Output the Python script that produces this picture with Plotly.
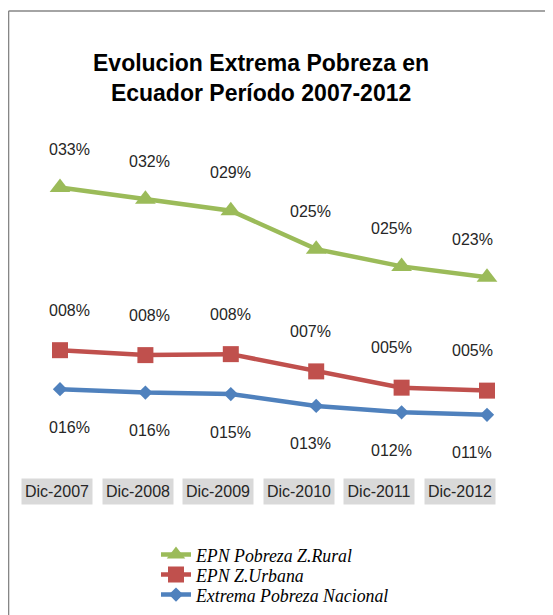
"""Evolucion Extrema Pobreza en Ecuador 2007-2012: lineas apiladas estilo Excel."""

import numpy as np
import plotly.graph_objects as go

periodos = ["Dic-2007", "Dic-2008", "Dic-2009", "Dic-2010", "Dic-2011", "Dic-2012"]
rural = [33.0, 31.6, 29.1, 24.8, 24.6, 23.0]
urbana = [7.9, 7.6, 8.1, 7.0, 5.0, 4.9]
nacional = [16.3, 15.6, 15.3, 12.9, 11.6, 11.1]

_SANS = "Liberation Sans, Arial, sans-serif"
_SERIF = "Liberation Serif, Times New Roman, serif"
_OFF = 8  # margen del body en la captura
_W, _H = 553, 615


def py(ref_y):
    """y en pixeles de la referencia -> coordenada paper."""
    return 1 - (ref_y - _OFF) / _H


def px(ref_x):
    return (ref_x - _OFF) / _W


idx = list(range(len(periodos)))

# orden de apilado: abajo -> arriba
series = [
    ("Extrema Pobreza Nacional", nacional, "#4F81BD", "diamond", 11, -38, "legend3", 595),
    ("EPN Z.Urbana", urbana, "#C0504D", "square", 16, 40, "legend2", 575),
    ("EPN Pobreza Z.Rural", rural, "#9BBB59", "triangle-up", 18, 38, "legend", 555),
]

fig = go.Figure()
annotations = []
legends = {}
acum = np.zeros(len(periodos))
for name, vals, color, symbol, msize, dy, leg, leg_y in series:
    fig.add_trace(go.Scatter(
        x=idx, y=vals, name=name, stackgroup="s", fill="none",
        mode="lines+markers",
        line=dict(color=color, width=4.5),
        marker=dict(symbol=symbol, size=msize, color=color),
        legend=leg, hoverinfo="skip",
    ))
    legends[leg] = dict(
        x=px(156), y=py(leg_y), xanchor="left", yanchor="middle",
        bgcolor="rgba(0,0,0,0)",
        font=dict(family=_SERIF, size=17.8, color="#000000", style="italic"),
    )
    acum = acum + np.array(vals)
    for i, v in enumerate(vals):
        annotations.append(dict(
            x=i, y=acum[i], xref="x2", yref="y", xshift=12, yshift=dy,
            text=f"{v:03.0f}%", showarrow=False,
            font=dict(family=_SANS, size=16, color="#262626"),
        ))

# etiquetas de categoria con fondo gris
for i, p in enumerate(periodos):
    annotations.append(dict(
        x=i, y=py(491.5), xref="x2", yref="paper", yanchor="middle",
        text=p, showarrow=False, width=68, height=23, bgcolor="#D9D9D9",
        font=dict(family=_SANS, size=16, color="#262626"),
    ))

annotations.append(dict(
    x=px(261), y=py(78), xref="paper", yref="paper",
    xanchor="center", yanchor="middle", showarrow=False,
    text="<b>Evolucion Extrema Pobreza en<br>Ecuador Período 2007-2012</b>",
    font=dict(family=_SANS, size=23, color="#000000"),
))

x0 = -(60 - _OFF) / 85.4
x20 = -(57 - _OFF) / 80.6
y0 = -(_H - (469.5 - _OFF)) / 4.93

fig.update_layout(
    width=_W, height=_H,
    margin=dict(l=0, r=0, t=0, b=0),
    paper_bgcolor="white", plot_bgcolor="white",
    xaxis=dict(range=[x0, x0 + _W / 85.4], visible=False, fixedrange=True),
    xaxis2=dict(range=[x20, x20 + _W / 80.6], overlaying="x",
                visible=False, fixedrange=True),
    yaxis=dict(range=[y0, y0 + _H / 4.93], visible=False, fixedrange=True),
    showlegend=True,
    annotations=annotations,
    shapes=[
        dict(type="line", xref="paper", yref="paper", x0=0.001, x1=1, y0=py(11), y1=py(11),
             line=dict(color="#868686", width=1.5)),
        dict(type="line", xref="paper", yref="paper", x0=0.001, x1=0.001, y0=0, y1=py(11),
             line=dict(color="#868686", width=1.5)),
    ],
    **legends,
)

fig.write_html("out.html")
